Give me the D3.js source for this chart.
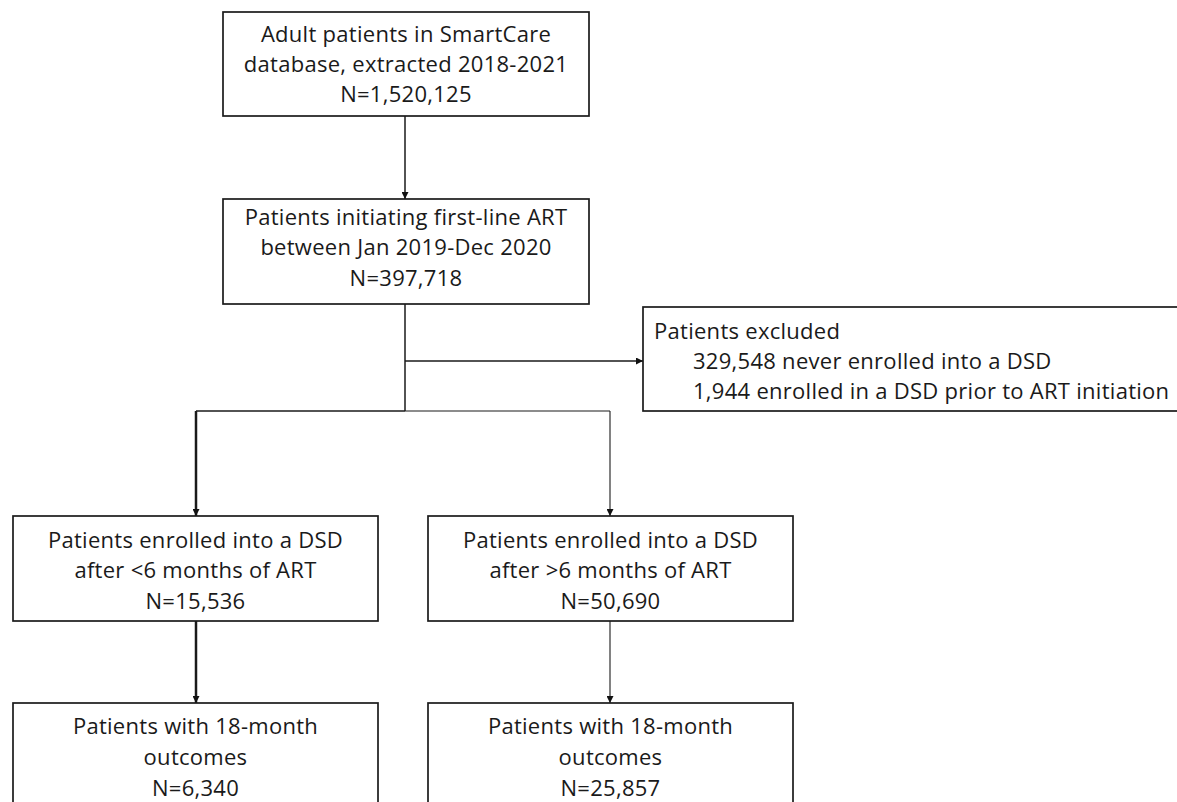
<!DOCTYPE html>
<html><head><meta charset="utf-8">
<script src="https://cdn.jsdelivr.net/npm/d3@7"></script>
<style>body{margin:0;background:#fff}svg{display:block}</style>
</head><body>
<svg id="c" width="1177" height="802"></svg>
<script>
// ---- data ----
const boxIds = ["all","init","excl","early","late","early18","late18"];
const boxLines = [
  ["Adult patients in SmartCare","database, extracted 2018-2021","N=1,520,125"],
  ["Patients initiating first-line ART","between Jan 2019-Dec 2020","N=397,718"],
  ["Patients excluded","329,548 never enrolled into a DSD","1,944 enrolled in a DSD prior to ART initiation"],
  ["Patients enrolled into a DSD","after <6 months of ART","N=15,536"],
  ["Patients enrolled into a DSD","after >6 months of ART","N=50,690"],
  ["Patients with 18-month","outcomes","N=6,340"],
  ["Patients with 18-month","outcomes","N=25,857"]
];
const counts = [1520125, 397718, 331492, 15536, 50690, 6340, 25857];

// ---- layout ----
const layout = {
  all:     {x:223, y:12,  w:366, h:104, align:"middle"},
  init:    {x:223, y:199, w:366, h:105, align:"middle"},
  excl:    {x:643, y:307, w:545, h:104, align:"start"},
  early:   {x:13,  y:516, w:365, h:105, align:"middle"},
  late:    {x:428, y:516, w:365, h:105, align:"middle"},
  early18: {x:13,  y:703, w:365, h:120, align:"middle"},
  late18:  {x:428, y:703, w:365, h:120, align:"middle"}
};
const lineYs = {
  all:[34,64,94], init:[217,247,278], excl:[331,361,391],
  early:[540,570,601], late:[540,570,601], early18:[726,757,788], late18:[726,757,788]
};

const svg = d3.select("#c");
const defs = svg.append("defs");
defs.append("marker").attr("id","ah").attr("viewBox","0 0 10 10")
  .attr("refX",10).attr("refY",5).attr("markerWidth",7).attr("markerHeight",7)
  .attr("markerUnits","userSpaceOnUse").attr("orient","auto")
  .append("path").attr("d","M0,0L10,5L0,10Z").attr("fill","#111");

const font = "'Open Sans', Lato, sans-serif";
const stroke = "#1a1a1a";

// connectors
const lines = [
  {pts:[[405,116],[405,199]], w:1.5, arrow:true},
  {pts:[[405,304],[405,411]], w:1.5, arrow:false},
  {pts:[[405,361],[643,361]], w:1.3, arrow:true},
  {pts:[[405,411],[196,411]], w:1.6, arrow:false},
  {pts:[[196,411],[196,516]], w:2.5, arrow:true},
  {pts:[[405,411],[610,411]], w:1.1, arrow:false},
  {pts:[[610,411],[610,516]], w:1.1, arrow:true},
  {pts:[[196,621],[196,703]], w:2.5, arrow:true},
  {pts:[[610,621],[610,703]], w:1.1, arrow:true}
];
svg.selectAll("path.conn").data(lines).join("path").attr("class","conn")
  .attr("d", d => d3.line()(d.pts))
  .attr("fill","none").attr("stroke",stroke).attr("stroke-width",d=>d.w)
  .attr("marker-end", d => d.arrow ? "url(#ah)" : null);

const boxes = boxIds.map((id,i)=>({id, lines:boxLines[i], n:counts[i], ...layout[id]}));
const g = svg.selectAll("g.box").data(boxes).join("g").attr("class","box");
g.append("rect").attr("x",d=>d.x).attr("y",d=>d.y).attr("width",d=>d.w).attr("height",d=>d.h)
  .attr("fill","#fff").attr("stroke",stroke).attr("stroke-width",1.7);
g.each(function(d){
  const sel = d3.select(this);
  d.lines.forEach((t,j)=>{
    let x = d.align==="middle" ? d.x + d.w/2 : (j===0 ? d.x+11 : d.x+50);
    sel.append("text").attr("x",x).attr("y",lineYs[d.id][j])
      .attr("dy","0.35em").attr("text-anchor",d.align)
      .attr("font-family",font).attr("font-size",22).attr("letter-spacing","0.28px")
      .attr("fill","#1a1a1a")
      .text(t);
  });
});
</script>
</body></html>
